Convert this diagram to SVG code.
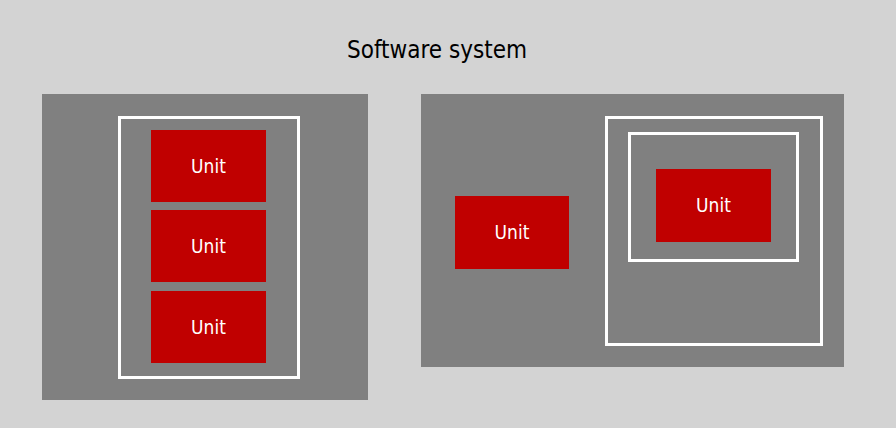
<svg xmlns="http://www.w3.org/2000/svg" width="896" height="428" viewBox="0 0 896 428">
<style>
.panel{fill:#808080}
.frame{fill:none;stroke:#ffffff;stroke-width:3}
.unit{fill:#c00000}
text{font-family:"DejaVu Sans Condensed","DejaVu Sans",sans-serif;text-anchor:middle;dominant-baseline:central}
.ut{fill:#ffffff;font-size:19px}
</style>
<rect width="896" height="428" fill="#d3d3d3"/>
<text x="437" y="50" font-size="24" fill="#000000">Software system</text>
<g id="left-panel">
<rect class="panel" x="42" y="94" width="326" height="306"/>
<rect class="frame" x="119.5" y="117.5" width="179" height="260"/>
</g>
<g id="unit1"><rect class="unit" x="151" y="130" width="115" height="72"/><text class="ut" x="208.5" y="166">Unit</text></g>
<g id="unit2"><rect class="unit" x="151" y="210" width="115" height="72"/><text class="ut" x="208.5" y="246">Unit</text></g>
<g id="unit3"><rect class="unit" x="151" y="291" width="115" height="72"/><text class="ut" x="208.5" y="327">Unit</text></g>
<g id="right-panel">
<rect class="panel" x="421" y="94" width="423" height="273"/>
<rect class="frame" x="606.5" y="117.5" width="215" height="227"/>
<rect class="frame" x="629.5" y="133.5" width="168" height="127"/>
</g>
<g id="unit4"><rect class="unit" x="455" y="196" width="114" height="73"/><text class="ut" x="512" y="232">Unit</text></g>
<g id="unit5"><rect class="unit" x="656" y="169" width="115" height="73"/><text class="ut" x="713.5" y="205">Unit</text></g>
<g id="connectors"/>
</svg>
